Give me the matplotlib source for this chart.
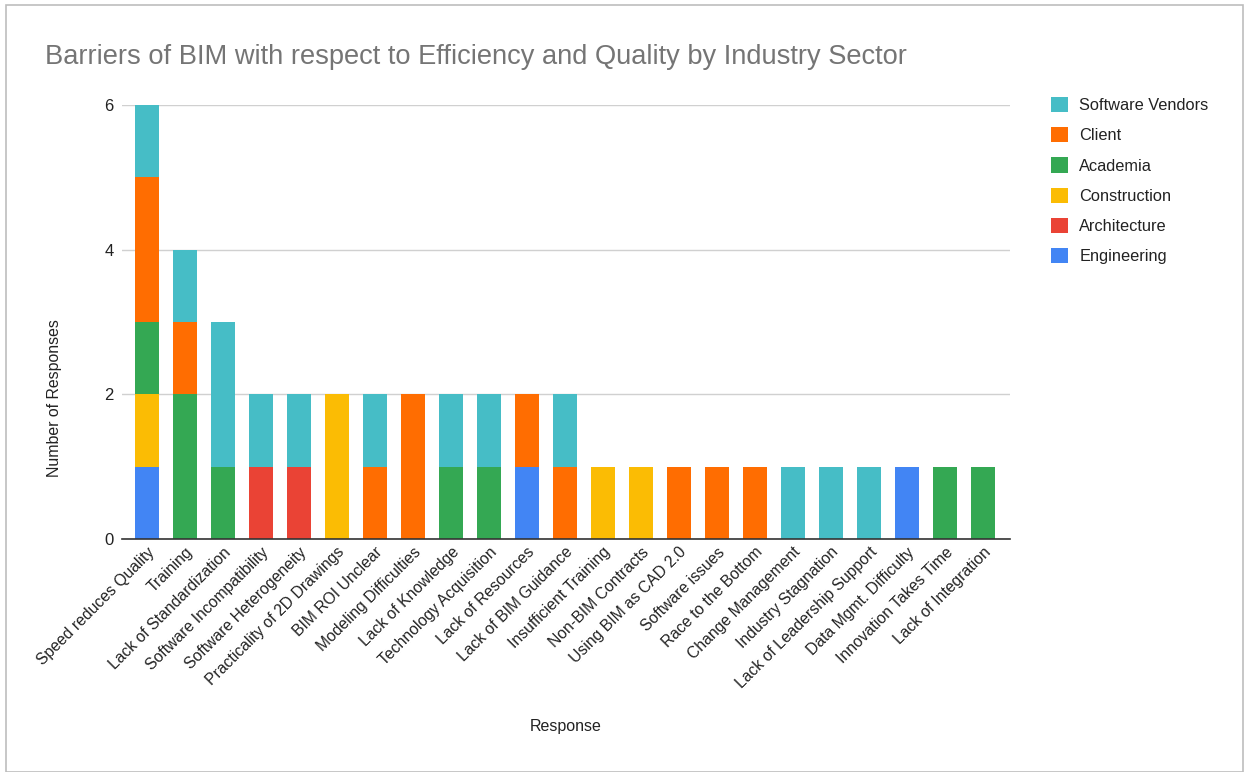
import matplotlib
matplotlib.use("Agg")
import matplotlib.pyplot as plt
import numpy as np
from matplotlib.patches import Rectangle

categories = ["Speed reduces Quality", "Training", "Lack of Standardization",
              "Software Incompatibility", "Software Heterogeneity",
              "Practicality of 2D Drawings", "BIM ROI Unclear", "Modeling Difficulties",
              "Lack of Knowledge", "Technology Acquisition", "Lack of Resources",
              "Lack of BIM Guidance", "Insufficient Training", "Non-BIM Contracts",
              "Using BIM as CAD 2.0", "Software issues", "Race to the Bottom",
              "Change Management", "Industry Stagnation", "Lack of Leadership Support",
              "Data Mgmt. Difficulty", "Innovation Takes Time", "Lack of Integration"]

engineering  = [1, 0, 0, 0, 0, 0, 0, 0, 0, 0, 1, 0, 0, 0, 0, 0, 0, 0, 0, 0, 1, 0, 0]
architecture = [0, 0, 0, 1, 1, 0, 0, 0, 0, 0, 0, 0, 0, 0, 0, 0, 0, 0, 0, 0, 0, 0, 0]
construction = [1, 0, 0, 0, 0, 2, 0, 0, 0, 0, 0, 0, 1, 1, 0, 0, 0, 0, 0, 0, 0, 0, 0]
academia     = [1, 2, 1, 0, 0, 0, 0, 0, 1, 1, 0, 0, 0, 0, 0, 0, 0, 0, 0, 0, 0, 1, 1]
client       = [2, 1, 0, 0, 0, 0, 1, 2, 0, 0, 1, 1, 0, 0, 1, 1, 1, 0, 0, 0, 0, 0, 0]
software_vendors = [1, 1, 2, 1, 1, 0, 1, 0, 1, 1, 0, 1, 0, 0, 0, 0, 0, 1, 1, 1, 0, 0, 0]

series = [("Engineering", engineering, "#4285F4"),
          ("Architecture", architecture, "#EA4335"),
          ("Construction", construction, "#FBBC04"),
          ("Academia", academia, "#34A853"),
          ("Client", client, "#FF6D01"),
          ("Software Vendors", software_vendors, "#46BDC6")]

yticks = [0, 2, 4, 6]

plt.rcParams['font.family'] = ['Liberation Sans', 'DejaVu Sans']

W, H = 1248, 772
fig = plt.figure(figsize=(W / 100, H / 100), dpi=100)
fig.patch.set_facecolor("white")

# outer frame
fig.patches.append(Rectangle((6 / W, 0), (1243 - 6) / W, (H - 5) / H, transform=fig.transFigure,
                             fill=False, edgecolor="#BDBDBD", linewidth=1.2))

ax = fig.add_axes([122 / W, 1 - 539 / H, (1010 - 122) / W, (539 - 105) / H])
x = np.arange(len(categories))
bottom = np.zeros(len(categories))
handles = {}
for name, vals, color in series:
    v = np.array(vals, dtype=float)
    b = ax.bar(x, v, bottom=bottom, width=0.63, color=color, label=name, zorder=3, linewidth=0)
    handles[name] = b
    bottom += v

ax.set_xlim(-0.66, len(categories) - 1 + 0.71)
ax.set_ylim(0, 6)
ax.set_yticks(yticks)
ax.set_yticklabels([str(t) for t in yticks], fontsize=12, color="#222222")
ax.yaxis.grid(True, color="#D0D0D0", linewidth=1, zorder=0)
ax.tick_params(axis="y", length=0, pad=6)
ax.tick_params(axis="x", length=0, pad=4)
ax.set_xticks(x)
ax.set_xticklabels(categories, rotation=45, ha="right", rotation_mode="anchor",
                   fontsize=11.3, color="#222222")
for s in ["top", "right", "left"]:
    ax.spines[s].set_visible(False)
ax.spines["bottom"].set_color("#333333")
ax.spines["bottom"].set_linewidth(1.2)
ax.spines["bottom"].set_zorder(4)

fig.text(45 / W, 1 - 57 / H, "Barriers of BIM with respect to Efficiency and Quality by Industry Sector",
         fontsize=19.6, color="#757575", ha="left", va="center")
fig.text(55 / W, 1 - 398 / H, "Number of Responses", rotation=90, fontsize=11.4,
         color="#222222", ha="center", va="center")
fig.text(566 / W, 1 - 727 / H, "Response", fontsize=11.5, color="#222222",
         ha="center", va="center")

order = ["Software Vendors", "Client", "Academia", "Construction", "Architecture", "Engineering"]
leg = fig.legend([handles[n] for n in order], order, loc="upper left",
                 bbox_to_anchor=(1036 / W, 1 - 82 / H), frameon=False, fontsize=11.8,
                 handlelength=1.05, handleheight=1.05, handletextpad=0.7, labelspacing=0.86,
                 labelcolor="#222222")

fig.savefig("out.png", dpi=100)
